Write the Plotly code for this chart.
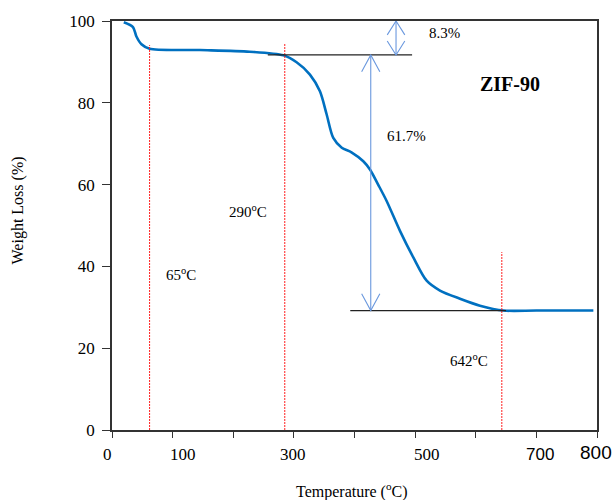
import plotly.graph_objects as go

# ---- data ----
temp = [19.5, 34.6, 40.3, 48.6, 62, 145, 227, 282.7, 304.5, 326.5, 343, 354, 365,
        379, 395, 414.5, 425.5, 439, 453, 475, 497, 519, 541, 574, 607, 646, 700, 794]
weight = [99.7, 98.5, 96.2, 94.3, 93.2, 92.9, 92.5, 91.6, 89.9, 86.9, 82.8, 77.2, 71.4,
          69.0, 67.9, 65.7, 63.7, 60.0, 56.0, 48.7, 42.2, 36.5, 34.1, 32.1, 30.4, 29.2, 29.2, 29.2]

onset_temps = [62, 285, 643]          # red dashed markers
onset_labels = ["65<sup>o</sup>C", "290<sup>o</sup>C", "642<sup>o</sup>C"]
onset_tops = [94.1, 94.6, 43.5]

step_levels = [100, 91.7, 29.2]       # plateau levels
loss_labels = ["8.3%", "61.7%"]

xtick_text = ["0", "100", "300", "500", "700", "800"]
xtick_at = [-7, 117, 298, 520, 706, 799]

SERIF = "Liberation Serif, Times New Roman, serif"
SANS = "Liberation Sans, Arial, sans-serif"

fig = go.Figure()
fig.add_trace(go.Scatter(x=temp, y=weight, mode="lines",
                         line=dict(color="#0070C0", width=2.6, shape="spline", smoothing=0.8),
                         showlegend=False, hoverinfo="skip"))

shapes = []
# red dashed onset lines
for t, top in zip(onset_temps, onset_tops):
    shapes.append(dict(type="line", xref="x", yref="y", x0=t, x1=t, y0=0, y1=top,
                       line=dict(color="#FF2020", width=1, dash="2px,1px")))
# horizontal plateau reference lines
shapes.append(dict(type="line", xref="x", yref="y", x0=257, x1=495, y0=step_levels[1], y1=step_levels[1],
                   line=dict(color="#222222", width=1.3)))
shapes.append(dict(type="line", xref="x", yref="y", x0=393, x1=650, y0=step_levels[2], y1=step_levels[2],
                   line=dict(color="#222222", width=1.3)))

ARW = "#6A98DE"
def double_arrow(x, ytop, ybot, hw, hl):
    shapes.append(dict(type="line", xref="x", yref="y", x0=x, x1=x, y0=ybot, y1=ytop,
                       line=dict(color=ARW, width=1.1)))
    for tip, sgn in ((ytop, -1), (ybot, 1)):
        shapes.append(dict(type="path", xref="x", yref="y",
                           path=f"M {x-hw},{tip+sgn*hl} L {x},{tip} L {x+hw},{tip+sgn*hl}",
                           line=dict(color=ARW, width=1.1)))

double_arrow(468.5, step_levels[0], step_levels[1], 14.5, 3.4)
double_arrow(426.8, step_levels[1], step_levels[2], 15, 4.1)

ann = []
# loss labels
ann.append(dict(x=549, y=97.1, text=loss_labels[0]))
ann.append(dict(x=485, y=71.8, text=loss_labels[1]))
# onset labels
ann.append(dict(x=113.4, y=38.2, text=onset_labels[0]))
ann.append(dict(x=224, y=53.6, text=onset_labels[1]))
ann.append(dict(x=589, y=17.0, text=onset_labels[2]))
for a in ann:
    a.update(xref="x", yref="y", showarrow=False, xanchor="center", yanchor="middle",
             font=dict(family=SERIF, size=15, color="black"))
ann.append(dict(x=657, y=84.5, xref="x", yref="y", showarrow=False, text="<b>ZIF-90</b>",
                xanchor="center", yanchor="middle",
                font=dict(family=SERIF, size=20, color="black")))

# x tick labels (placed as in the reference)
for txt, xv in zip(xtick_text, xtick_at):
    sans = txt in ("700", "800")
    size = 19 if txt == "800" else 17
    ann.append(dict(x=xv / 800.0, y=-0.061 if txt != "800" else -0.056, xref="paper", yref="paper",
                    showarrow=False, text=txt, xanchor="center", yanchor="middle",
                    font=dict(family=SANS if sans else SERIF, size=size, color="black")))

# axis titles
ann.append(dict(x=0.495, y=-0.1485, xref="paper", yref="paper", showarrow=False,
                xanchor="center", yanchor="middle",
                text="Temperature (<sup>o</sup>C)", font=dict(family=SERIF, size=16, color="black")))
ann.append(dict(x=-0.1947, y=0.5357, xref="paper", yref="paper", showarrow=False, textangle=-90,
                xanchor="center", yanchor="middle",
                text="Weight Loss (%)", font=dict(family=SERIF, size=16, color="black")))

fig.update_layout(
    width=614, height=500,
    margin=dict(l=112, r=17, t=19, b=70),
    paper_bgcolor="white", plot_bgcolor="white",
    shapes=shapes, annotations=ann,
    xaxis=dict(range=[0, 800], dtick=100, tick0=0, showticklabels=False, ticks="outside",
               ticklen=6, tickcolor="#333", showgrid=False, zeroline=False,
               showline=True, linecolor="#333", linewidth=1.5, mirror=True),
    yaxis=dict(range=[0, 100], dtick=20, tick0=0, ticks="outside", ticklen=8, tickcolor="#333",
               showgrid=False, zeroline=False, showline=True, linecolor="#333", linewidth=1.5,
               mirror=True, ticklabelstandoff=4,
               tickfont=dict(family=SERIF, size=17, color="black")),
)

fig.write_html("out.html")
